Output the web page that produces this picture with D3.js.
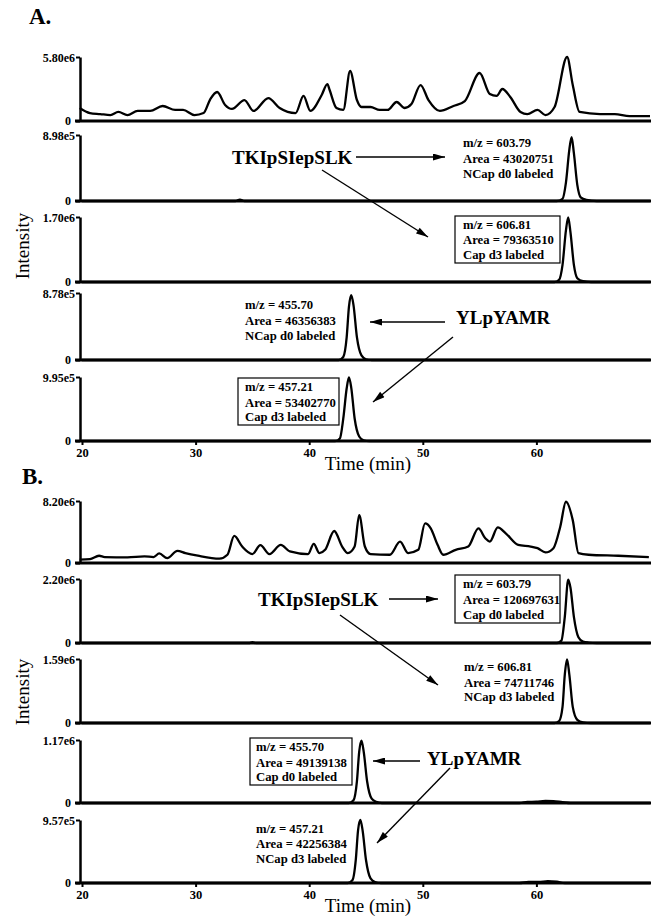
<!DOCTYPE html>
<html>
<head>
<meta charset="utf-8">
<script src="https://cdn.jsdelivr.net/npm/d3@7"></script>
<style>
body { margin: 0; background: #fff; }
svg text { font-family: "Liberation Serif", "Times New Roman", serif; fill: #000; }
</style>
</head>
<body>
<div id="chart"></div>
<script>
// ---- data (time in min, intensity in counts) ----
var ticTimeA = [19.8,20.7,21.6,22.5,23.2,24.0,24.9,26.0,27.1,28.2,28.9,29.9,30.7,31.3,31.9,32.6,33.2,34.3,35.1,36.4,37.4,38.8,39.5,40.1,41.1,41.6,41.8,42.4,43.0,43.6,44.2,44.6,45.4,46.2,46.9,47.7,48.4,49.0,49.8,50.5,51.5,52.7,53.7,55.0,55.9,56.5,57.0,57.7,58.6,59.2,60.1,60.8,61.6,62.7,63.2,63.8,65.6,66.9,68.2,70.0];
var ticIntA = [1.18,0.72,0.63,0.54,0.82,0.54,0.91,0.91,1.36,1.0,1.0,0.54,0.72,1.99,2.63,1.45,1.09,1.9,0.91,2.08,1.18,0.72,2.27,0.91,2.36,3.35,2.81,1.18,1.0,4.53,1.9,1.27,1.27,1.0,1.0,1.72,1.18,1.54,3.26,1.9,0.91,1.36,1.81,4.35,2.45,2.27,2.9,2.18,0.82,0.63,1.0,0.54,1.27,5.8,3.26,0.82,0.63,0.63,0.45,0.45].map(function (v) { return v * 1e6; });

var ticTimeB = [19.8,20.7,21.5,22.0,24.0,25.5,26.3,26.8,27.5,28.4,29.1,30.2,32.1,32.8,33.4,34.1,35.0,35.7,36.5,37.5,38.3,39.9,40.4,40.9,41.4,42.2,42.9,43.4,44.0,44.4,44.9,45.4,47.1,48.0,48.7,49.6,50.2,50.7,51.3,51.8,52.9,54.0,54.9,55.5,55.9,56.6,57.3,58.4,59.5,60.1,60.8,61.5,62.1,62.6,63.2,63.7,64.6,67.2,69.9];
var ticIntB = [0.44,0.52,0.96,0.79,0.74,0.87,0.79,1.26,0.65,1.61,1.31,0.96,0.57,1.09,3.58,2.18,1.18,2.36,1.18,2.40,1.53,1.18,2.53,1.31,1.74,4.23,2.18,1.31,2.18,6.32,2.18,1.18,1.09,2.83,1.31,1.74,5.23,4.58,2.40,1.09,1.74,2.18,4.58,3.27,2.83,4.71,3.93,2.40,2.18,1.96,1.40,1.96,4.80,8.1,5.67,1.31,1.09,0.96,0.79].map(function (v) { return v * 1e6; });

// extracted ion chromatograms
var eicTimeA2 = [20, 33.5, 33.9, 34.3, 61.8, 62.3, 62.6, 62.9, 63.1, 63.3, 63.6, 63.9, 64.4, 65.3, 70];
var eicIntA2 = [0, 0, 0.2e5, 0, 0, 0.3e5, 2.5e5, 7.0e5, 8.7e5, 6.5e5, 2.2e5, 0.5e5, 0.15e5, 0, 0];
var eicTimeA3 = [20, 61.6, 62.0, 62.3, 62.6, 62.8, 63.0, 63.3, 63.6, 64.1, 64.8, 70];
var eicIntA3 = [0, 0, 0.6e5, 4.5e5, 13.5e5, 16.9e5, 13e5, 4.5e5, 1.0e5, 0.2e5, 0, 0];
var eicTimeA4 = [20, 42.6, 43.0, 43.3, 43.5, 43.7, 43.9, 44.2, 44.6, 45.0, 45.5, 70];
var eicIntA4 = [0, 0, 0.4e5, 3.0e5, 7.0e5, 8.5e5, 7.2e5, 3.0e5, 0.6e5, 0.1e5, 0, 0];
var eicTimeA5 = [20, 42.3, 42.7, 43.0, 43.3, 43.5, 43.7, 44.0, 44.4, 44.8, 45.3, 70];
var eicIntA5 = [0, 0, 0.4e5, 3.5e5, 8.2e5, 9.9e5, 8.3e5, 3.5e5, 0.7e5, 0.1e5, 0, 0];

var eicTimeB2 = [20, 34.7, 35.0, 35.3, 61.8, 62.2, 62.5, 62.8, 63.0, 63.3, 63.7, 64.1, 64.6, 65.3, 70];
var eicIntB2 = [0, 0, 0.3e5, 0, 0, 0.8e5, 9e5, 21.8e5, 19e5, 9e5, 2.0e5, 0.5e5, 0.15e5, 0, 0];
var eicTimeB3 = [20, 61.6, 62.0, 62.3, 62.5, 62.7, 62.9, 63.2, 63.6, 64.1, 64.8, 70];
var eicIntB3 = [0, 0, 0.5e5, 4e5, 12e5, 15.8e5, 12e5, 4e5, 0.8e5, 0.15e5, 0, 0];
var eicTimeB4 = [20, 43.5, 43.9, 44.2, 44.4, 44.6, 44.8, 45.1, 45.5, 45.9, 46.4, 58.5, 59.2, 60.0, 60.8, 61.5, 62.3, 63.0, 70];
var eicIntB4 = [0, 0, 0.5e5, 4e5, 9.5e5, 11.6e5, 9.5e5, 4e5, 0.8e5, 0.2e5, 0, 0, 0.2e5, 0.25e5, 0.4e5, 0.35e5, 0.15e5, 0, 0];
var eicTimeB5 = [20, 43.4, 43.8, 44.1, 44.3, 44.5, 44.7, 45.0, 45.4, 45.8, 46.3, 58.5, 59.3, 60.2, 61.0, 61.8, 62.5, 70];
var eicIntB5 = [0, 0, 0.4e5, 3.5e5, 8e5, 9.6e5, 8e5, 3.5e5, 0.7e5, 0.15e5, 0, 0, 0.15e5, 0.15e5, 0.3e5, 0.2e5, 0, 0];

// y maxima and their labels
var yMaxA = [5.80e6, 8.98e5, 1.70e6, 8.78e5, 9.95e5];
var yMaxLabelA = ["5.80e6", "8.98e5", "1.70e6", "8.78e5", "9.95e5"];
var yMaxB = [8.20e6, 2.20e6, 1.59e6, 1.17e6, 9.57e5];
var yMaxLabelB = ["8.20e6", "2.20e6", "1.59e6", "1.17e6", "9.57e5"];
var timeTicks = [20, 30, 40, 50, 60];

// ---- svg ----
var svgWidth = 658, svgHeight = 924;
var svg = d3.select("#chart").append("svg")
    .attr("width", svgWidth)
    .attr("height", svgHeight);

svg.append("defs").append("marker")
    .attr("id", "arrow")
    .attr("viewBox", "0 0 12 7")
    .attr("refX", 12).attr("refY", 3.5)
    .attr("markerWidth", 13).attr("markerHeight", 7)
    .attr("markerUnits", "userSpaceOnUse")
    .attr("orient", "auto")
    .append("path")
    .attr("d", "M0,0L12,3.5L0,7Z")
    .attr("fill", "#000");

var x = d3.scaleLinear().domain([20, 70]).range([82, 650]);

// panel layout (top tick / baseline pixel rows)
var topsA = [57, 135, 217, 293, 377], basesA = [121, 201, 282, 360, 441];
var topsB = [501, 579, 659, 740, 820], basesB = [563, 643, 723, 803, 883];

function drawPanel(top, base, yMax, yLabel, times, ints, isBottom) {
    var y = d3.scaleLinear().domain([0, yMax]).range([base, top]);
    var g = svg.append("g");

    // trace
    var line = d3.line()
        .x(function (d) { return x(d[0]); })
        .y(function (d) { return y(d[1]); })
        .curve(d3.curveMonotoneX);
    g.append("path")
        .datum(d3.zip(times, ints))
        .attr("d", line)
        .attr("fill", "none")
        .attr("stroke", "#000")
        .attr("stroke-width", 2.3)
        .attr("stroke-linejoin", "round");

    // baseline
    g.append("line")
        .attr("x1", 75).attr("x2", 651)
        .attr("y1", base).attr("y2", base)
        .attr("stroke", "#000").attr("stroke-width", 3);

    // y axis
    var leftAxis = d3.axisLeft(y)
        .tickValues([0, yMax])
        .tickFormat(function (d) { return d === 0 ? "0" : yLabel; })
        .tickSize(4)
        .tickSizeOuter(0)
        .tickPadding(1);
    var ya = g.append("g")
        .attr("transform", "translate(80,0)")
        .call(leftAxis);
    ya.select(".domain").attr("stroke-width", 2.5);
    ya.selectAll(".tick line").attr("stroke-width", 2);
    ya.selectAll(".tick text")
        .attr("font-size", 12)
        .attr("font-weight", "bold")
        .attr("font-family", "'Liberation Serif', serif")
        .attr("dx", function (d) { return d === 0 ? -4 : 0; })
        .attr("dy", function (d) { return d === 0 ? "0.25em" : "0.36em"; });

    if (isBottom) {
        var bottomAxis = d3.axisBottom(x)
            .tickValues(timeTicks)
            .tickSize(4)
            .tickPadding(3);
        var xa = g.append("g")
            .attr("transform", "translate(0," + base + ")")
            .call(bottomAxis);
        xa.select(".domain").remove();
        xa.selectAll(".tick line").attr("stroke-width", 2);
        xa.selectAll(".tick text")
            .attr("font-size", 12.5)
            .attr("font-weight", "bold")
            .attr("font-family", "'Liberation Serif', serif");
    }
}

var tracesA = [[ticTimeA, ticIntA], [eicTimeA2, eicIntA2], [eicTimeA3, eicIntA3], [eicTimeA4, eicIntA4], [eicTimeA5, eicIntA5]];
var tracesB = [[ticTimeB, ticIntB], [eicTimeB2, eicIntB2], [eicTimeB3, eicIntB3], [eicTimeB4, eicIntB4], [eicTimeB5, eicIntB5]];

tracesA.forEach(function (tr, i) {
    drawPanel(topsA[i], basesA[i], yMaxA[i], yMaxLabelA[i], tr[0], tr[1], i === 4);
});
tracesB.forEach(function (tr, i) {
    drawPanel(topsB[i], basesB[i], yMaxB[i], yMaxLabelB[i], tr[0], tr[1], i === 4);
});

// axis titles and panel letters
[[246, 470], [692, 912]].forEach(function (p) {
    svg.append("text")
        .attr("transform", "translate(29," + p[0] + ") rotate(-90)")
        .attr("text-anchor", "middle")
        .attr("font-size", 19)
        .text("Intensity");
    svg.append("text")
        .attr("x", 368).attr("y", p[1])
        .attr("text-anchor", "middle")
        .attr("font-size", 19)
        .text("Time (min)");
});
svg.append("text").attr("x", 29).attr("y", 24)
    .attr("font-size", 23).attr("font-weight", "bold").text("A.");
svg.append("text").attr("x", 22).attr("y", 484)
    .attr("font-size", 23).attr("font-weight", "bold").text("B.");

// annotations
function textBlock(xp, ys, lines, box) {
    if (box) {
        svg.append("rect")
            .attr("x", box[0]).attr("y", box[1])
            .attr("width", box[2] - box[0]).attr("height", box[3] - box[1])
            .attr("fill", "none").attr("stroke", "#000").attr("stroke-width", 1.2);
    }
    lines.forEach(function (t, i) {
        svg.append("text")
            .attr("x", xp).attr("y", ys[i])
            .attr("font-size", 12.7)
            .attr("font-weight", "bold")
            .text(t);
    });
}
function peptide(xp, yp, t) {
    svg.append("text").attr("x", xp).attr("y", yp)
        .attr("font-size", 19).attr("font-weight", "bold").text(t);
}
function arrow(x1, y1, x2, y2) {
    svg.append("line")
        .attr("x1", x1).attr("y1", y1).attr("x2", x2).attr("y2", y2)
        .attr("stroke", "#000").attr("stroke-width", 1.4)
        .attr("marker-end", "url(#arrow)");
}

// panel A
peptide(232, 164, "TKIpSIepSLK");
arrow(356, 157, 445, 157);
arrow(322, 170, 428, 237);
textBlock(463, [147, 163, 178], ["m/z = 603.79", "Area = 43020751", "NCap d0 labeled"]);
textBlock(463, [229, 244, 259], ["m/z = 606.81", "Area = 79363510", "Cap d3 labeled"], [455, 216, 560, 263]);
textBlock(245, [309, 325, 340], ["m/z = 455.70", "Area = 46356383", "NCap d0 labeled"]);
peptide(456, 324, "YLpYAMR");
arrow(445, 322, 370, 322);
arrow(453, 337, 373, 402);
textBlock(245, [391, 407, 421], ["m/z = 457.21", "Area = 53402770", "Cap d3 labeled"], [238, 378, 339, 425]);

// panel B
peptide(258, 606, "TKIpSIepSLK");
arrow(389, 599, 438, 599);
textBlock(463, [588, 604, 619], ["m/z = 603.79", "Area = 120697631", "Cap d0 labeled"], [455, 575, 560, 623]);
arrow(340, 615, 438, 685);
textBlock(464, [671, 687, 701], ["m/z = 606.81", "Area = 74711746", "NCap d3 labeled"]);
textBlock(256, [751, 767, 781], ["m/z = 455.70", "Area = 49139138", "Cap d0 labeled"], [250, 738, 352, 785]);
peptide(427, 765, "YLpYAMR");
arrow(420, 761, 373, 761);
arrow(450, 768, 377, 843);
textBlock(256, [833, 848, 863], ["m/z = 457.21", "Area = 42256384", "NCap d3 labeled"]);
</script>
</body>
</html>
